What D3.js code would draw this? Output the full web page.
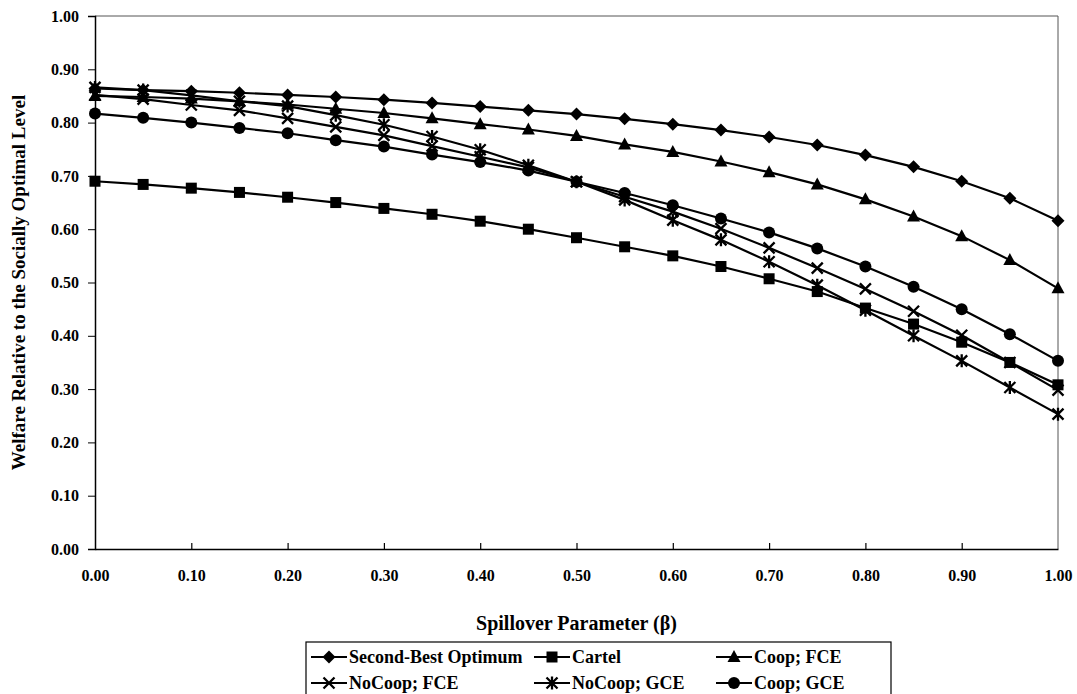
<!DOCTYPE html>
<html>
<head>
<meta charset="utf-8">
<script src="https://cdn.jsdelivr.net/npm/d3@7"></script>
<style>
  body { margin: 0; background: #fff; }
</style>
</head>
<body>
<svg class="chart_svg" width="1077" height="694"></svg>
<script>
let beta = [0.00, 0.05, 0.10, 0.15, 0.20, 0.25, 0.30, 0.35, 0.40, 0.45, 0.50,
            0.55, 0.60, 0.65, 0.70, 0.75, 0.80, 0.85, 0.90, 0.95, 1.00];

let second_best = [0.864, 0.861, 0.859, 0.856, 0.852, 0.848, 0.843, 0.837, 0.830, 0.823, 0.816,
                   0.807, 0.797, 0.786, 0.773, 0.758, 0.739, 0.717, 0.690, 0.658, 0.616];
let cartel      = [0.690, 0.684, 0.677, 0.669, 0.660, 0.650, 0.639, 0.628, 0.615, 0.600, 0.584,
                   0.567, 0.550, 0.530, 0.507, 0.483, 0.452, 0.422, 0.388, 0.350, 0.308];
let coop_fce    = [0.850, 0.848, 0.845, 0.840, 0.834, 0.826, 0.818, 0.808, 0.797, 0.787, 0.775,
                   0.759, 0.745, 0.727, 0.707, 0.684, 0.656, 0.624, 0.587, 0.542, 0.489];
let nocoop_fce  = [0.852, 0.844, 0.833, 0.823, 0.808, 0.792, 0.776, 0.756, 0.736, 0.716, 0.689,
                   0.661, 0.633, 0.601, 0.565, 0.527, 0.488, 0.446, 0.401, 0.350, 0.298];
let nocoop_gce  = [0.866, 0.861, 0.851, 0.840, 0.831, 0.814, 0.796, 0.774, 0.749, 0.720, 0.689,
                   0.655, 0.617, 0.580, 0.539, 0.495, 0.448, 0.400, 0.353, 0.303, 0.253];
let coop_gce    = [0.817, 0.809, 0.800, 0.790, 0.780, 0.767, 0.755, 0.740, 0.726, 0.710, 0.689,
                   0.668, 0.645, 0.620, 0.594, 0.564, 0.530, 0.492, 0.450, 0.403, 0.353];

let y_ticks = [0, 0.1, 0.2, 0.3, 0.4, 0.5, 0.6, 0.7, 0.8, 0.9, 1.0];
let x_ticks = [0, 0.1, 0.2, 0.3, 0.4, 0.5, 0.6, 0.7, 0.8, 0.9, 1.0];

/* series in the order the legend lists them (row by row) */
let series = [
    {name: "Second-Best Optimum", values: second_best, marker: "diamond"},
    {name: "Cartel",              values: cartel,      marker: "square"},
    {name: "Coop; FCE",           values: coop_fce,    marker: "triangle"},
    {name: "NoCoop; FCE",         values: nocoop_fce,  marker: "cross"},
    {name: "NoCoop; GCE",         values: nocoop_gce,  marker: "star"},
    {name: "Coop; GCE",           values: coop_gce,    marker: "circle"}
];

let FONT = "'Liberation Serif', 'Times New Roman', 'DejaVu Serif', serif";

let svg = d3.select("svg.chart_svg");
let margin = {left: 95, right: 1058, top: 16, bottom: 549};

let x = d3.scaleLinear().domain([0, 1]).range([margin.left, margin.right]);
let y = d3.scaleLinear().domain([0, 1]).range([margin.bottom, margin.top]);

function style_text(sel, size) {
    sel.style("font-family", FONT).style("font-weight", "bold")
       .style("font-size", size + "px").style("fill", "#000");
}

/* plot frame: top and right in thin grey */
svg.append("path")
    .attr("d", "M" + x(0) + "," + y(1) + "H" + x(1) + "V" + y(0))
    .attr("fill", "none").attr("stroke", "#555").attr("stroke-width", 1);

/* y axis, ticks outside */
let y_axis = d3.axisLeft(y).tickValues(y_ticks).tickSize(7).tickPadding(9)
    .tickFormat(d3.format(".2f"));
let gy = svg.append("g").attr("transform", "translate(" + x(0) + ",0)").call(y_axis);
gy.select(".domain").attr("stroke-width", 1.5);
style_text(gy.selectAll("text"), 16);

/* x axis, ticks point into the plot */
let x_axis = d3.axisBottom(x).tickValues(x_ticks).tickSize(0).tickPadding(21)
    .tickFormat(d3.format(".2f"));
let gx = svg.append("g").attr("transform", "translate(0," + y(0) + ")").call(x_axis);
gx.select(".domain").attr("stroke-width", 1.5);
style_text(gx.selectAll("text"), 16);
gx.selectAll(".tick").filter(function(d){ return d > 0 && d < 1; })
    .append("line").attr("y2", -6).attr("stroke", "#000").attr("stroke-width", 1.2);

/* axis titles */
style_text(svg.append("text")
    .attr("x", (x(0) + x(1)) / 2).attr("y", 630)
    .attr("text-anchor", "middle")
    .text("Spillover Parameter (\u03b2)"), 20);

style_text(svg.append("text")
    .attr("transform", "translate(25," + ((y(0) + y(1)) / 2) + ") rotate(-90)")
    .attr("text-anchor", "middle")
    .text("Welfare Relative to the Socially Optimal Level"), 19);

/* markers */
function draw_marker(g, type, cx, cy) {
    if (type === "diamond") {
        g.append("path").attr("d", "M" + cx + "," + (cy - 6.5) + "L" + (cx + 6.5) + "," + cy +
            "L" + cx + "," + (cy + 6.5) + "L" + (cx - 6.5) + "," + cy + "Z").attr("fill", "#000");
    } else if (type === "square") {
        g.append("rect").attr("x", cx - 5.5).attr("y", cy - 5.5).attr("width", 11).attr("height", 11)
            .attr("fill", "#000");
    } else if (type === "triangle") {
        g.append("path").attr("d", "M" + cx + "," + (cy - 7) + "L" + (cx + 6.5) + "," + (cy + 5) +
            "L" + (cx - 6.5) + "," + (cy + 5) + "Z").attr("fill", "#000");
    } else if (type === "circle") {
        g.append("circle").attr("cx", cx).attr("cy", cy).attr("r", 6).attr("fill", "#000");
    } else {
        let s = 5.5;
        let d = "M" + (cx - s) + "," + (cy - s) + "L" + (cx + s) + "," + (cy + s) +
                "M" + (cx - s) + "," + (cy + s) + "L" + (cx + s) + "," + (cy - s);
        if (type === "star") d += "M" + cx + "," + (cy - s - 1) + "L" + cx + "," + (cy + s + 1);
        g.append("path").attr("d", d).attr("stroke", "#000").attr("stroke-width", 2.3).attr("fill", "none");
    }
}

let line = d3.line()
    .x(function(d, i){ return x(beta[i]); })
    .y(function(d){ return y(d); });

series.forEach(function(s){
    let g = svg.append("g").attr("class", "series");
    g.append("path").datum(s.values).attr("d", line)
        .attr("fill", "none").attr("stroke", "#000").attr("stroke-width", 2.2);
    s.values.forEach(function(v, i){
        draw_marker(g, s.marker, x(beta[i]), y(v));
    });
});

/* legend */
let legend = svg.append("g").attr("transform", "translate(306,642)");
legend.append("rect").attr("x", 0).attr("y", 0).attr("width", 585).attr("height", 70)
    .attr("fill", "#fff").attr("stroke", "#000").attr("stroke-width", 1.2);

let col_x = [5, 228, 410];
series.forEach(function(s, i){
    let col = i % 3, row = Math.floor(i / 3);
    let lx = col_x[col], ly = 15 + row * 26;
    let g = legend.append("g");
    g.append("line").attr("x1", lx).attr("x2", lx + 36).attr("y1", ly).attr("y2", ly)
        .attr("stroke", "#000").attr("stroke-width", 2);
    draw_marker(g, s.marker, lx + 18, ly);
    style_text(g.append("text").attr("x", lx + 38).attr("y", ly + 6).text(s.name), 18);
});
</script>
</body>
</html>
